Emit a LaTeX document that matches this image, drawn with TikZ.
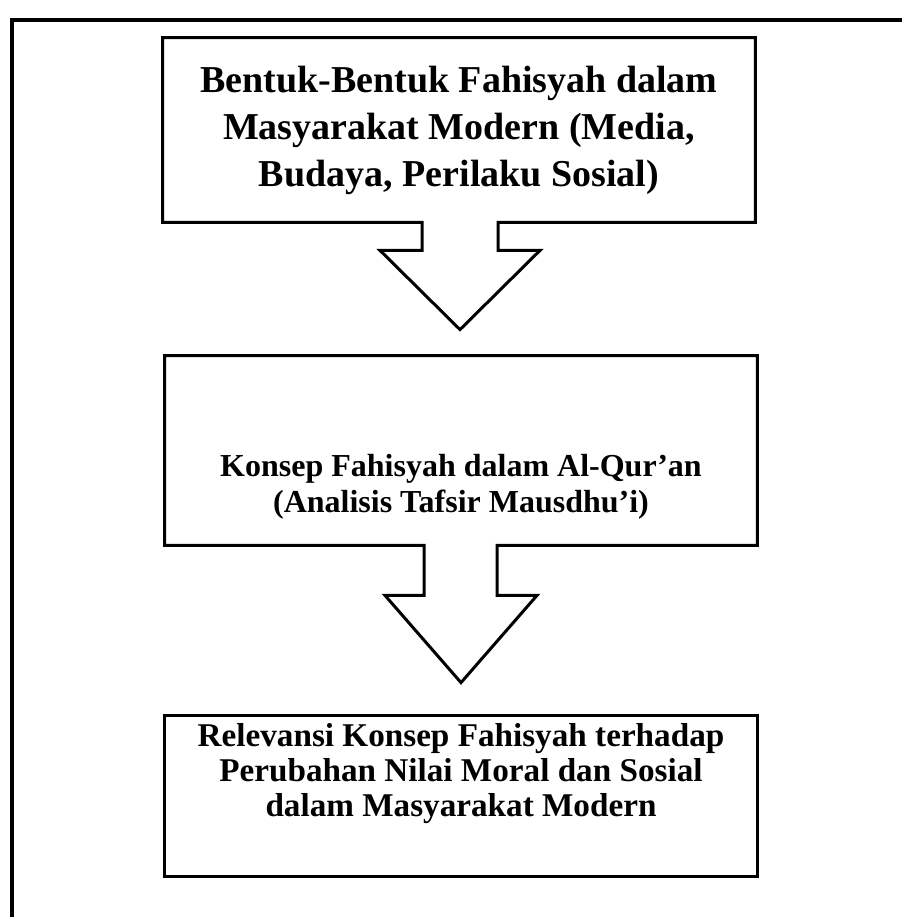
\documentclass[tikz,border=0pt]{standalone}
\usepackage{fontspec}
\setmainfont{Liberation Serif}
\usetikzlibrary{positioning,calc}

\tikzset{
	kotak/.style={draw=none,minimum width=296pt,inner sep=0pt},
	teks/.style={align=center,font=\bfseries\fontsize{16}{18}\selectfont,inner sep=0pt},
	garis/.style={line width=1.5pt,line join=miter},
	bingkai/.style={line width=1.9pt}
}

\begin{document}
\begin{tikzpicture}[x=0.5pt,y=-0.5pt]
	\useasboundingbox (0,0) rectangle (902,917);
	\draw[bingkai] (902,20) -- (12,20) -- (12,917);

	\node[kotak,minimum height=92pt] (bentuk) at (459,130) {};
	\node[kotak,minimum height=94.5pt] (konsep) at (461,450.5) {};
	\node[kotak,minimum height=80pt] (relevansi) at (461,796) {};

	\node[teks,font=\bfseries\fontsize{19}{23.5}\selectfont] (tbentuk) at (459,130)
	{Bentuk-Bentuk Fahisyah dalam\\Masyarakat Modern (Media,\\Budaya, Perilaku Sosial)};
	\node[teks] (tkonsep) at (461,487)
	{Konsep Fahisyah dalam Al-Qur’an\\(Analisis Tafsir Mausdhu’i)};
	\node[teks,font=\bfseries\fontsize{16.6}{17.5}\selectfont] (trelevansi) at (461,774)
	{Relevansi Konsep Fahisyah terhadap\\Perubahan Nilai Moral dan Sosial\\dalam Masyarakat Modern};

	% kotak pertama + panah ke bawah
	\draw[garis] (bentuk.south west) -- (bentuk.north west) -- (bentuk.north east)
	-- (bentuk.south east) -- ($(bentuk.south)+(39,0)$) -- ++(0,28) -- ++(42,0)
	-- ($(konsep.north)+(-1,-26)$) -- ($(bentuk.south)+(-79,28)$) -- ++(42,0)
	-- ($(bentuk.south)+(-37,0)$) -- cycle;
	% kotak kedua + panah ke bawah
	\draw[garis] (konsep.south west) -- (konsep.north west) -- (konsep.north east)
	-- (konsep.south east) -- ($(konsep.south)+(36,0)$) -- ++(0,50) -- ++(40,0)
	-- ($(relevansi.north)+(0,-33)$) -- ($(konsep.south)+(-76,50)$) -- ++(39,0)
	-- ($(konsep.south)+(-37,0)$) -- cycle;
	% kotak ketiga
	\draw[garis] (relevansi.south west) rectangle (relevansi.north east);
\end{tikzpicture}
\end{document}
